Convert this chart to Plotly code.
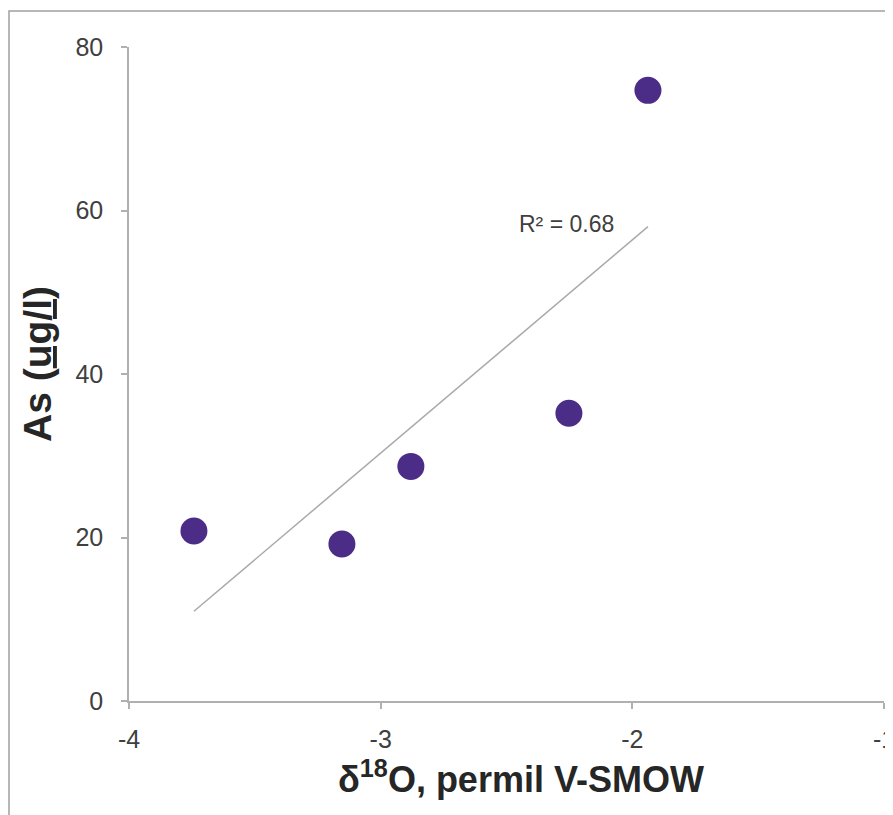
import numpy as np
import plotly.graph_objects as go

# Data
d18o = [-3.742, -3.154, -2.880, -2.252, -1.938]
arsenic = [20.8, 19.2, 28.7, 35.2, 74.7]
x_ticks = [-4, -3, -2, -1]
y_ticks = [0, 20, 40, 60, 80]
r2_label = "R² = 0.68"
x_title = "<b>δ<sup>18</sup>O, permil V-SMOW</b>"
y_title = "<b>As (<u>ug/l</u>)</b>"

# Linear trend line over the data range
slope, intercept = np.polyfit(d18o, arsenic, 1)
tx = [min(d18o), max(d18o)]
ty = [slope * v + intercept for v in tx]

# page has an 8px body margin; place the plot where the reference has it
OFF = 8
W, H = 893, 815
L, T = 129 - OFF, 47 - OFF
R = W - (884 - OFF)
B = H - (701 - OFF)
pw, ph = W - L - R, H - T - B


def px_to_paper(px, py):
    """page pixel -> paper coords"""
    fx, fy = px - OFF, py - OFF
    return (fx - L) / pw, 1 - (fy - T) / ph


FONT = "Liberation Sans, Arial"

fig = go.Figure()
fig.add_trace(go.Scatter(x=tx, y=ty, mode="lines",
                         line=dict(color="#a9a9a9", width=1.5),
                         hoverinfo="skip", showlegend=False))
fig.add_trace(go.Scatter(x=d18o, y=arsenic, mode="markers",
                         marker=dict(size=27, color="#4b2c87", line=dict(width=0)),
                         showlegend=False))

fig.add_annotation(x=-2.26, y=58.3, xref="x", yref="y", text=r2_label,
                   showarrow=False, xanchor="center", yanchor="middle",
                   font=dict(family=FONT, size=23, color="#404040"))

# axis titles as annotations for exact placement
xt_x, xt_y = px_to_paper(521, 777)
fig.add_annotation(x=xt_x, y=xt_y, xref="paper", yref="paper", text=x_title,
                   showarrow=False, xanchor="center", yanchor="middle",
                   font=dict(family=FONT, size=36, color="#262626"))
yt_x, yt_y = px_to_paper(37, 364)
fig.add_annotation(x=yt_x, y=yt_y, xref="paper", yref="paper", text=y_title,
                   showarrow=False, xanchor="center", yanchor="middle", textangle=-90,
                   font=dict(family=FONT, size=39, color="#262626"))

# outer frame
fx0, fy1 = px_to_paper(9, 11)
fig.add_shape(type="rect", xref="paper", yref="paper",
              x0=fx0, x1=(W + 20 - L) / pw,
              y0=-(B + 20) / ph, y1=fy1,
              line=dict(color="#a0a0a0", width=1.5), fillcolor="rgba(0,0,0,0)", layer="below")

axis_common = dict(showgrid=False, zeroline=False, showline=True, linecolor="#b0b0b0",
                   linewidth=1.5, ticks="outside", ticklen=6, tickcolor="#b0b0b0",
                   tickwidth=1.5, automargin=False,
                   tickfont=dict(family=FONT, size=25, color="#404040"))

fig.update_xaxes(range=[-4, -1], tickvals=x_ticks, ticktext=[str(v) for v in x_ticks],
                 ticklabelstandoff=9, **axis_common)
fig.update_yaxes(range=[0, 80], tickvals=y_ticks, ticktext=[str(v) for v in y_ticks],
                 ticklabelstandoff=13, **axis_common)

fig.update_layout(width=W, height=H,
                  margin=dict(l=L, r=R, t=T, b=B, autoexpand=False),
                  paper_bgcolor="white", plot_bgcolor="white")

fig.write_html("out.html")
